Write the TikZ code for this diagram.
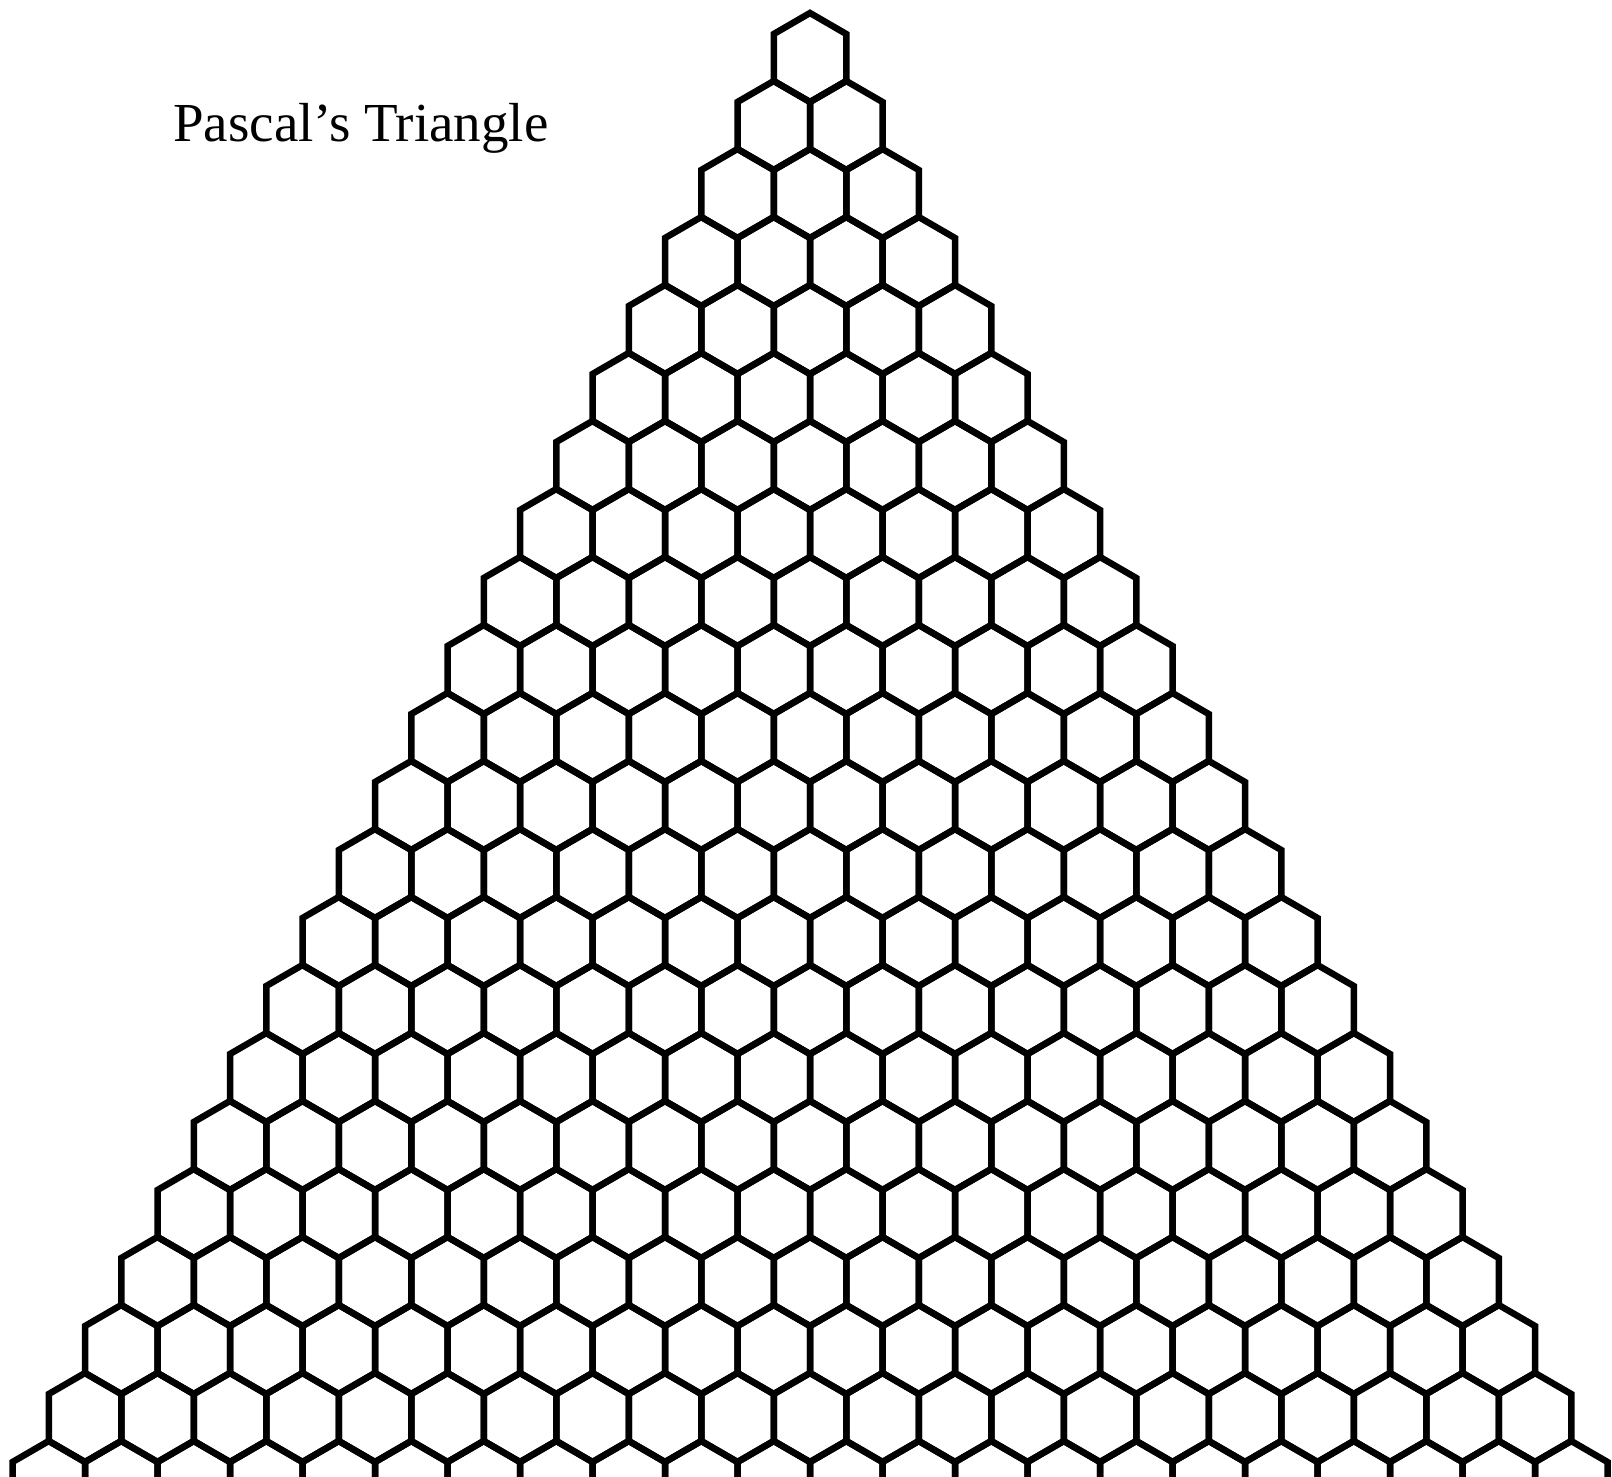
\documentclass[tikz,border=0pt]{standalone}
\usepackage{fontspec}
\setmainfont{Liberation Serif}
\begin{document}
\begin{tikzpicture}[x=1pt,y=-1pt,
  hexcell/.style={draw=black,line width=6.5pt,line join=miter},
  titletext/.style={font=\fontsize{55}{66}\selectfont,inner sep=0pt,anchor=base west}]
\useasboundingbox (0,0) rectangle (1612,1477);
\clip (0,0) rectangle (1612,1477);
\def\ha{36.25}
\def\hh{21}
\def\hv{23.5}
\foreach \n in {1,...,22}{
  \pgfmathsetmacro{\cy}{57.5+68*(\n-1)}
  \pgfmathtruncatemacro{\last}{\n-1}
  \foreach \k in {0,...,\last}{
    \pgfmathsetmacro{\cx}{810-36.25*(\n-1)+72.5*\k}
    \draw[hexcell] (\cx,\cy-\hv-\hh) -- (\cx+\ha,\cy-\hv) -- (\cx+\ha,\cy+\hv)
      -- (\cx,\cy+\hv+\hh) -- (\cx-\ha,\cy+\hv) -- (\cx-\ha,\cy-\hv) -- cycle;
  }
}
\node[titletext] (title) at (173,142) {Pascal’s Triangle};
\end{tikzpicture}
\end{document}
